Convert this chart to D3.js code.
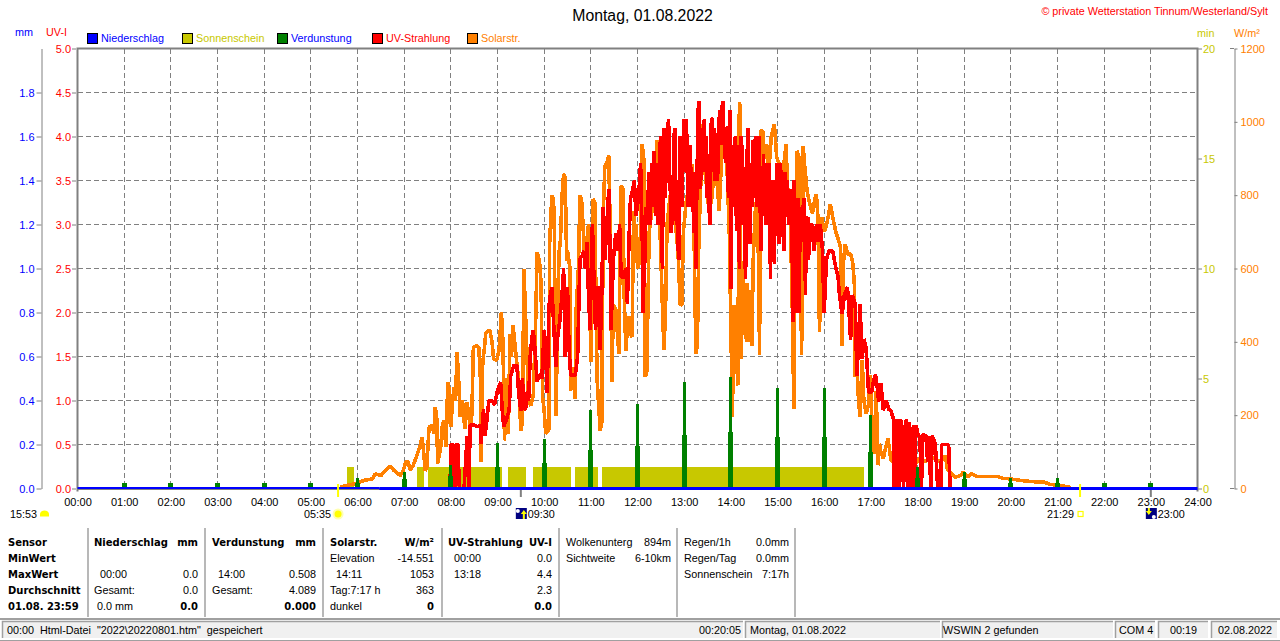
<!DOCTYPE html>
<html>
<head>
<meta charset="utf-8">
<script src="https://cdn.jsdelivr.net/npm/d3@7"></script>
<style>
  html, body { margin: 0; padding: 0; background: #fff; overflow: hidden; }
  svg { display: block; font-family: "Liberation Sans", Arial, sans-serif; font-size: 10.8px; }
  .bold { font-family: "DejaVu Sans", sans-serif; font-weight: bold; font-size: 10px; }
</style>
</head>
<body>
<svg id="chart" width="1280" height="641"></svg>
<script>
// series are [minute of day, value], except uvFine which is one value per minute
var hourLabels = d3.range(0, 25).map(function (h) { return (h < 10 ? "0" : "") + h + ":00"; });
var mmTicks = [0, 0.2, 0.4, 0.6, 0.8, 1.0, 1.2, 1.4, 1.6, 1.8];
var uvTicks = [0, 0.5, 1, 1.5, 2, 2.5, 3, 3.5, 4, 4.5, 5];
var minTicks = [0, 5, 10, 15, 20];
var wattTicks = [0, 200, 400, 600, 800, 1000, 1200];

var legendNames = ["Niederschlag", "Sonnenschein", "Verdunstung", "UV-Strahlung", "Solarstr."];
var legendColors = ["#0000ff", "#c8c800", "#008000", "#ff0000", "#ff8000"];
var legendText = ["#0000ff", "#c8c800", "#0000ff", "#ff0000", "#ff8000"];

var solar = [[338,3],[345,8],[357,13],[362,16],[368,22],[379,26],[383,40],[390,35],[394,44],[398,54],[402,60],[407,49],[411,43],[415,35],[419,50],[422,72],[425,74],[428,49],[432,65],[437,94],[441,120],[443,140],[445,100],[447,49],[449,55],[452,167],[456,172],[458,150],[460,222],[462,190],[463,67],[465,90],[467,113],[469,170],[471,185],[473,130],[474,113],[476,290],[478,270],[480,167],[482,230],[484,276],[486,240],[488,371],[490,300],[492,195],[495,240],[498,163],[501,235],[505,167],[507,200],[509,385],[513,390],[516,385],[518,300],[519,72],[521,340],[523,380],[525,425],[530,432],[533,400],[535,353],[539,350],[542,376],[545,481],[547,400],[549,131],[552,300],[554,150],[556,422],[558,360],[560,445],[563,380],[567,300],[570,158],[572,180],[574,599],[577,420],[580,235],[583,226],[586,255],[589,450],[591,644],[594,620],[596,560],[598,250],[600,213],[602,149],[606,160],[607,667],[609,760],[610,799],[612,790],[613,720],[615,199],[617,400],[619,640],[621,680],[623,800],[625,858],[627,850],[629,620],[630,650],[633,603],[634,267],[637,330],[640,245],[641,480],[644,600],[646,799],[648,790],[650,720],[652,620],[654,660],[657,720],[660,345],[663,790],[665,780],[668,300],[672,158],[674,180],[676,750],[678,880],[681,890],[683,908],[685,700],[687,290],[689,500],[692,490],[696,367],[698,700],[699,826],[701,820],[703,520],[705,376],[708,470],[711,420],[713,413],[715,758],[716,700],[718,720],[720,600],[723,620],[726,940],[728,900],[729,500],[730,304],[732,320],[735,700],[738,749],[741,780],[743,850],[745,949],[747,930],[749,700],[752,500],[754,378],[756,480],[758,720],[762,800],[768,740],[772,650],[775,500],[777,502],[779,700],[783,790],[787,830],[790,885],[792,800],[795,367],[797,390],[799,700],[801,800],[803,994],[805,900],[808,840],[811,777],[815,780],[820,900],[825,758],[827,850],[829,976],[832,921],[835,880],[838,700],[842,195],[844,500],[846,420],[849,281],[851,1053],[852,1040],[853,354],[854,500],[855,420],[856,620],[857,430],[858,540],[859,480],[860,400],[861,560],[862,399],[863,520],[864,500],[865,420],[866,540],[867,390],[868,520],[869,640],[872,780],[875,700],[877,363],[878,976],[881,976],[883,900],[886,940],[889,870],[892,960],[896,994],[899,903],[903,880],[907,860],[911,940],[913,820],[916,780],[919,500],[921,217],[923,700],[925,921],[928,900],[931,363],[933,935],[935,880],[938,812],[941,780],[945,750],[948,790],[950,803],[952,740],[954,426],[957,740],[960,700],[963,718],[966,750],[968,776],[971,740],[975,700],[978,680],[981,658],[983,390],[985,620],[987,667],[990,640],[994,640],[997,612],[999,550],[1000,304],[1002,349],[1004,249],[1006,195],[1008,280],[1009,349],[1011,240],[1014,204],[1017,230],[1019,310],[1021,200],[1024,95],[1026,213],[1027,267],[1029,63],[1031,122],[1033,100],[1036,81],[1039,110],[1042,136],[1046,76],[1052,68],[1058,60],[1065,60],[1071,56],[1078,68],[1084,86],[1089,72],[1097,86],[1103,81],[1110,72],[1116,90],[1118,54],[1123,42],[1129,31],[1135,35],[1139,45],[1144,31],[1149,40],[1156,33],[1174,33],[1183,33],[1189,28],[1200,26],[1213,22],[1226,19],[1243,17],[1251,11],[1264,8],[1277,3]];

var uvMorning = [[479,0],[480,.5],[483,.5],[485,0],[487,.5],[489,.5],[491,0],[497,0],[499,.3],[501,.6],[503,0],[505,.72],[510,.72],[514,.7],[518,.72],[519,.51],[522,.9],[524,.6],[526,.75],[529,1.0],[533,1.0],[536,.95],[540,1.11],[544,1.21],[546,.9],[548,.7],[552,.8],[555,.89],[557,1.28],[561,1.4],[565,1.4],[567,1.1],[570,.88],[572,1.25],[574,.95],[576,.89],[578,1.1],[580,1.0],[582,1.49],[584,1.7],[586,1.8],[588,1.6],[591,1.21],[594,1.3],[597,1.25],[600,1.8],[602,1.5],[604,1.09],[606,2.06],[608,2.2],[610,2.29],[612,1.9],[615,1.38],[617,1.7],[620,1.9],[623,2.2],[625,2.5],[627,1.49],[630,2.29],[632,1.6],[634,1.28],[637,1.3],[640,1.28],[643,1.5],[646,2.61],[649,2.65],[651,2.7],[653,2.5],[655,2.8],[657,2.2],[659,1.8],[662,3.0],[664,2.4],[666,1.8],[669,2.3],[672,1.57],[674,2.2],[676,3.2],[678,2.6],[680,2.9],[683,3.4],[685,2.6],[686,1.8],[689,2.6],[692,2.9],[695,2.7],[697,3.0],[699,2.4],[702,2.4],[705,2.5],[707,2.1],[709,2.8],[711,3.3],[714,3.4],[716,3.5],[718,3.1],[720,3.2],[722,3.4]];

var uvFineStart = 724;
var uvFine = [3.7,3.2,3.0,2.0,2.3,2.4,3.0,3.2,3.0,3.3,3.4,3.6,3.0,3.5,3.4,3.7,3.2,3.84,3.2,3.5,3.1,3.7,3.0,3.6,3.3,3.9,4.0,3.2,2.5,3.6,4.1,3.6,3.3,3.9,3.7,4.1,4.2,3.6,3.5,2.9,3.5,3.0,3.4,4.0,4.1,3.4,3.0,3.5,2.8,2.6,3.5,4.0,3.6,3.2,3.9,3.6,4.2,3.6,4.1,4.2,3.6,3.2,3.7,3.4,3.9,3.3,3.2,3.6,3.0,2.9,3.3,2.5,3.2,3.8,4.3,4.4,3.9,3.4,3.8,4.1,3.6,4.1,4.2,3.7,4.0,3.3,3.8,3.6,3.2,3.0,3.7,4.2,4.2,3.6,4.1,3.7,3.5,3.8,4.0,3.5,4.1,4.2,4.3,3.9,4.2,4.35,4.4,3.9,4.1,3.7,4.1,4.1,3.6,3.3,4.0,4.3,2.27,3.8,3.2,3.9,3.3,3.95,4.0,3.1,2.93,3.9,3.3,2.5,3.8,4.0,3.1,3.9,3.0,3.6,2.7,2.38,3.4,3.8,4.1,3.2,3.7,2.78,3.6,3.2,3.9,3.96,3.3,3.95,4.0,3.2,3.9,3.5,4.0,3.4,3.1,2.7,3.5,3.2,3.8,3.1,3.4,3.0,3.7,3.2,3.6,3.7,3.1,2.38,3.2,3.0,3.5,2.8,2.55,3.3,3.0,3.7,3.2,3.6,2.78,3.4,3.7,3.1,3.5,3.0,2.7,3.3,3.6,3.2,3.5,3.08,3.3,3.0,3.2,3.4,3.1,2.6,1.89,3.5,2.9,2.0,3.0,3.3,2.2,3.3,2.0,3.2,2.8,3.1,2.9,3.2,3.3,2.9,2.2,3.1,2.9,3.08,2.6,3.0,2.8,3.0,3.0,2.8,2.9,2.7,2.9,2.8,3.0,2.8,2.9,3.0,2.8,3.0,2.9,2.8,2.7,2.3,2.0];

var uvEvening = [[963,2.6],[966,2.7],[971,2.7],[974,2.55],[978,2.4],[979,2.25],[983,1.98],[986,2.2],[990,2.29],[992,2.0],[994,1.69],[996,2.2],[1000,2.1],[1002,1.28],[1004,1.6],[1006,2.1],[1009,1.47],[1011,1.7],[1014,1.6],[1017,1.1],[1021,1.09],[1023,1.2],[1026,1.3],[1029,1.1],[1030,.98],[1033,1.2],[1036,.89],[1040,1.0],[1043,.9],[1046,.88],[1049,.79],[1050,0],[1052,.79],[1053,0],[1055,.79],[1056,0],[1058,.79],[1060,.7],[1062,0],[1064,.7],[1066,.79],[1067,0],[1069,.75],[1070,0],[1072,.7],[1073,0],[1075,.72],[1076,0],[1078,.72],[1081,.6],[1083,.6],[1085,0],[1087,.62],[1089,.6],[1091,.6],[1093,.3],[1095,.6],[1097,0],[1099,.6],[1103,.5],[1106,0],[1110,0],[1111,.5],[1116,.5],[1120,.5],[1122,0]];

var uv = uvMorning
  .concat(uvFine.map(function (v, i) { return [uvFineStart + i, v]; }))
  .concat(uvEvening);

// evaporation per hour: tall narrow stroke plus a wider lower one
var evapHours = [1,2,3,4,5,6,7,8,9,10,11,12,13,14,15,16,17,18,19,20,21,22,23];
var evapPeak = [.027,.027,.027,.027,.027,.05,.077,.105,.205,.227,.359,.382,.482,.508,.459,.459,.332,.1,.077,.05,.05,.027,.027];
var evapBase = [.027,.027,.027,.027,.027,.027,.041,.055,.1,.114,.177,.191,.241,.255,.232,.232,.164,.05,.045,.023,.023,.023,.023];

// sunshine runs, start and end minute, 1 min per minute
var sunRuns = [[347,355],[437,446],[450,489],[492,546],[553,576],[586,635],[639,669],[674,1003],[1004,1011]];
var rainChange = [0, 388, 1440];

var x = d3.scaleLinear().domain([0, 1440]).range([77.5, 1197.5]);
var yUv = d3.scaleLinear().domain([0, 5]).range([488.5, 48.5]);
var yMm = d3.scaleLinear().domain([0, 2]).range([488.5, 48.5]);
var yMin = d3.scaleLinear().domain([0, 20]).range([488.5, 48.5]);
var yWatt = d3.scaleLinear().domain([0, 1200]).range([488.5, 48.5]);

var grey = "#808080";
var svg = d3.select("#chart");

function label(xp, yp, str, color, anchor, cls) {
  return svg.append("text")
    .attr("x", xp)
    .attr("y", yp)
    .attr("dy", "0.35em")
    .attr("fill", color || "#000")
    .attr("text-anchor", anchor || "start")
    .attr("class", cls || null)
    .text(str);
}

// titles
label(642.5, 15, "Montag, 01.08.2022", "#000", "middle").style("font-size", "15.8px");
label(1268, 11, "\u00a9 private Wetterstation Tinnum/Westerland/Sylt", "#ff0000", "end");
label(15, 32, "mm", "#0000ff");
label(46, 32, "UV-I", "#ff0000");
label(1197, 33, "min", "#c8c800");
label(1234, 33, "W/m\u00b2", "#ff8000");

// legend
legendNames.forEach(function (name, i) {
  svg.append("rect")
    .attr("x", 87.5 + i * 95)
    .attr("y", 33.5)
    .attr("width", 10)
    .attr("height", 10)
    .attr("fill", legendColors[i])
    .attr("stroke", "#000");
  label(101 + i * 95, 38, name, legendText[i]);
});

// grid
var grid = svg.append("g")
  .attr("stroke", grey)
  .attr("stroke-dasharray", "5,3")
  .attr("shape-rendering", "crispEdges");
grid.selectAll("line.h")
  .data(uvTicks.slice(1, -1))
  .enter()
  .append("line")
  .attr("class", "h")
  .attr("x1", x(0))
  .attr("x2", x(1440))
  .attr("y1", function (d) { return yUv(d) - 0.5; })
  .attr("y2", function (d) { return yUv(d) - 0.5; });
grid.selectAll("line.v")
  .data(d3.range(1, 24))
  .enter()
  .append("line")
  .attr("class", "v")
  .attr("x1", function (d) { return x(d * 60); })
  .attr("x2", function (d) { return x(d * 60); })
  .attr("y1", yUv(5))
  .attr("y2", yUv(0));

// sunshine blocks
svg.append("g")
  .attr("shape-rendering", "crispEdges")
  .selectAll("rect")
  .data(sunRuns)
  .enter()
  .append("rect")
  .attr("x", function (d) { return x(d[0]); })
  .attr("width", function (d) { return x(d[1]) - x(d[0]); })
  .attr("y", yMin(1))
  .attr("height", yMin(0) - yMin(1))
  .attr("fill", "#c8c800");

var lineGen = function (yScale) {
  return d3.line()
    .x(function (d) { return x(d[0]); })
    .y(function (d) { return yScale(d[1]); });
};

svg.append("path")
  .datum(solar)
  .attr("d", lineGen(yWatt))
  .attr("fill", "none")
  .attr("stroke", "#ff8000")
  .attr("stroke-width", 3.6)
  .attr("stroke-linejoin", "bevel")
  .attr("shape-rendering", "crispEdges");

svg.append("path")
  .datum(uv)
  .attr("d", lineGen(yUv))
  .attr("fill", "none")
  .attr("stroke", "#ff0000")
  .attr("stroke-width", 3.6)
  .attr("stroke-linejoin", "bevel")
  .attr("shape-rendering", "crispEdges");

// frame
svg.append("path")
  .attr("d", "M" + x(0) + "," + (yUv(0) + 3) + "V" + yUv(5) + "H" + x(1440) + "V" + (yUv(0) + 3))
  .attr("fill", "none")
  .attr("stroke", grey)
  .attr("stroke-width", 2);
svg.append("line")
  .attr("x1", x(0))
  .attr("x2", x(1440))
  .attr("y1", yUv(0) + 0.5)
  .attr("y2", yUv(0) + 0.5)
  .attr("stroke", grey)
  .attr("stroke-width", 2);

// evaporation spikes
var evap = svg.append("g").attr("fill", "#008000").attr("shape-rendering", "crispEdges");
evap.selectAll("rect.peak")
  .data(evapHours)
  .enter()
  .append("rect")
  .attr("class", "peak")
  .attr("x", function (d) { return x(d * 60) - 1.5; })
  .attr("width", 3)
  .attr("y", function (d, i) { return yMm(evapPeak[i]); })
  .attr("height", function (d, i) { return yMm(0) - yMm(evapPeak[i]); });
evap.selectAll("rect.base")
  .data(evapHours)
  .enter()
  .append("rect")
  .attr("class", "base")
  .attr("x", function (d) { return x(d * 60) - 2.5; })
  .attr("width", 5)
  .attr("y", function (d, i) { return yMm(evapBase[i]); })
  .attr("height", function (d, i) { return yMm(0) - yMm(evapBase[i]); });

// rain stays zero: thin line first, full width after 06:28
svg.append("path")
  .datum([[rainChange[0], 0], [rainChange[1], 0]])
  .attr("d", lineGen(yMm))
  .attr("transform", "translate(0,-0.5)")
  .attr("stroke", "#0000ff")
  .attr("stroke-width", 2);
svg.append("path")
  .datum([[rainChange[1], 0], [rainChange[2], 0]])
  .attr("d", lineGen(yMm))
  .attr("stroke", "#0000ff")
  .attr("stroke-width", 3);

// axes
function styleAxis(g, color) {
  g.selectAll("text").attr("fill", color).style("font-size", "11px").style("font-family", "Liberation Sans");
  g.selectAll("line").attr("stroke", grey);
  g.select(".domain").attr("stroke", grey);
}

svg.append("g")
  .attr("transform", "translate(41.5,0)")
  .call(d3.axisLeft(yMm).tickValues(mmTicks).tickFormat(d3.format(".1f")).tickSize(5).tickPadding(2).tickSizeOuter(0))
  .call(styleAxis, "#0000ff");

svg.append("g")
  .attr("transform", "translate(76,0)")
  .call(d3.axisLeft(yUv).tickValues(uvTicks).tickFormat(d3.format(".1f")).tickSize(4).tickPadding(1))
  .call(styleAxis, "#ff0000")
  .select(".domain").remove();

svg.append("g")
  .attr("transform", "translate(1198,0)")
  .call(d3.axisRight(yMin).tickValues(minTicks).tickSize(4).tickPadding(1))
  .call(styleAxis, "#c8c800")
  .select(".domain").remove();

svg.append("g")
  .attr("transform", "translate(1234.5,0)")
  .call(d3.axisRight(yWatt).tickValues(wattTicks).tickFormat(d3.format("d")).tickSize(3).tickPadding(3).tickSizeOuter(0))
  .call(styleAxis, "#ff8000");
svg.append("path")
  .attr("d", "M1230," + yWatt(1200) + "h4M1230," + yWatt(0) + "h4")
  .attr("stroke", grey);

svg.append("g")
  .attr("transform", "translate(0,497)")
  .call(d3.axisBottom(x).tickValues(d3.range(0, 1441, 60)).tickFormat(function (d, i) { return hourLabels[i]; }).tickSize(0).tickPadding(1))
  .call(function (g) {
    g.select(".domain").remove();
    g.selectAll("text").attr("fill", "#000").style("font-size", "11px").style("font-family", "Liberation Sans");
  });

// sun and moon markers
var sunrise = 335, sunset = 1289, moonrise = 570, moonset = 1380;
[sunrise, sunset].forEach(function (t) {
  svg.append("line").attr("x1", x(t)).attr("x2", x(t)).attr("y1", 484).attr("y2", 497)
    .attr("stroke", "#ffff00").attr("stroke-width", 2);
});
[moonrise, moonset].forEach(function (t) {
  svg.append("line").attr("x1", x(t)).attr("x2", x(t)).attr("y1", 490).attr("y2", 497)
    .attr("stroke", grey).attr("stroke-width", 2);
});

label(10, 514, "15:53");
svg.append("path").attr("d", "M40,516.5 v-3 q1,-3 4.5,-3 q3.5,0 4.5,3 v3 z").attr("fill", "#ffff00");

label(x(sunrise) - 7, 514, "05:35", "#000", "end");
svg.append("circle").attr("cx", x(sunrise)).attr("cy", 514).attr("r", 5.5).attr("fill", "#ffffb0");
svg.append("circle").attr("cx", x(sunrise)).attr("cy", 514).attr("r", 3.5).attr("fill", "#ffff00");

label(x(sunset) - 6, 514, "21:29", "#000", "end");
svg.append("rect").attr("x", x(sunset) - 2).attr("y", 511.5).attr("width", 5).attr("height", 5)
  .attr("fill", "#fff").attr("stroke", "#ffff00").attr("stroke-width", 1.2);

svg.append("rect").attr("x", x(moonrise) - 5).attr("y", 508).attr("width", 11).attr("height", 11).attr("fill", "#000080");
svg.append("circle").attr("cx", x(moonrise) - 3).attr("cy", 511).attr("r", 2).attr("fill", "#fff");
svg.append("path").attr("d", "M" + (x(moonrise) + 3) + ",510l3,4h-2v5h-2v-5h-2z").attr("fill", "#ffff00");
label(x(moonrise) + 7, 514, "09:30");

svg.append("rect").attr("x", x(moonset) - 5).attr("y", 508).attr("width", 11).attr("height", 11).attr("fill", "#000080");
svg.append("circle").attr("cx", x(moonset) + 3).attr("cy", 517).attr("r", 2).attr("fill", "#fff");
svg.append("path").attr("d", "M" + (x(moonset) - 2) + ",515l-3,-4h2v-3h2v3h2z").attr("fill", "#ffff00");
label(x(moonset) + 7, 514, "23:00");

// table below the chart
var rowY = [542, 558, 574, 590, 606];
var colEdges = [88, 205, 323, 442, 559, 677, 795];
svg.selectAll("line.sep")
  .data(colEdges)
  .enter()
  .append("line")
  .attr("class", "sep")
  .attr("x1", function (d) { return d; })
  .attr("x2", function (d) { return d; })
  .attr("y1", 528)
  .attr("y2", 617)
  .attr("stroke", "#a0a0a0")
  .attr("stroke-width", 1.5);

var cells = [
  [8, 0, "Sensor", "start", 1], [8, 1, "MinWert", "start", 1], [8, 2, "MaxWert", "start", 1], [8, 3, "Durchschnitt", "start", 1], [8, 4, "01.08. 23:59", "start", 1],
  [94, 0, "Niederschlag", "start", 1], [198, 0, "mm", "end", 1], [100, 2, "00:00", "start"], [198, 2, "0.0", "end"], [94, 3, "Gesamt:", "start"], [198, 3, "0.0", "end"], [97, 4, "0.0 mm", "start"], [198, 4, "0.0", "end", 1],
  [212, 0, "Verdunstung", "start", 1], [316, 0, "mm", "end", 1], [218, 2, "14:00", "start"], [316, 2, "0.508", "end"], [212, 3, "Gesamt:", "start"], [316, 3, "4.089", "end"], [316, 4, "0.000", "end", 1],
  [330, 0, "Solarstr.", "start", 1], [434, 0, "W/m\u00b2", "end", 1], [330, 1, "Elevation", "start"], [434, 1, "-14.551", "end"], [336, 2, "14:11", "start"], [434, 2, "1053", "end"], [330, 3, "Tag:7:17 h", "start"], [434, 3, "363", "end"], [330, 4, "dunkel", "start"], [434, 4, "0", "end", 1],
  [448, 0, "UV-Strahlung", "start", 1], [552, 0, "UV-I", "end", 1], [454, 1, "00:00", "start"], [552, 1, "0.0", "end"], [454, 2, "13:18", "start"], [552, 2, "4.4", "end"], [552, 3, "2.3", "end"], [552, 4, "0.0", "end", 1],
  [566, 0, "Wolkenunterg", "start"], [671, 0, "894m", "end"], [566, 1, "Sichtweite", "start"], [671, 1, "6-10km", "end"],
  [684, 0, "Regen/1h", "start"], [789, 0, "0.0mm", "end"], [684, 1, "Regen/Tag", "start"], [789, 1, "0.0mm", "end"], [684, 2, "Sonnenschein", "start"], [789, 2, "7:17h", "end"]
];
cells.forEach(function (c) {
  label(c[0], rowY[c[1]], c[2], "#000", c[3], c[4] ? "bold" : null);
});

// status bar
svg.append("rect").attr("x", 0).attr("y", 618).attr("width", 1280).attr("height", 23).attr("fill", "#fff");
svg.append("line").attr("x1", 0).attr("x2", 1280).attr("y1", 619).attr("y2", 619).attr("stroke", "#a0a0a0").attr("stroke-width", 2);
svg.append("line").attr("x1", 0).attr("x2", 1280).attr("y1", 640.5).attr("y2", 640.5).attr("stroke", "#a0a0a0");
var panels = [[2, 743], [745, 940], [942, 1113], [1115, 1155], [1158, 1208], [1211, 1277]];
panels.forEach(function (p) {
  svg.append("rect").attr("x", p[0]).attr("y", 621).attr("width", p[1] - p[0]).attr("height", 17).attr("fill", "#f0f0f0");
  svg.append("path").attr("d", "M" + (p[0] + 0.5) + ",638V621.5H" + p[1]).attr("fill", "none").attr("stroke", "#a0a0a0").attr("stroke-width", 1.5);
});
label(7, 630, "00:00  Html-Datei  \"2022\\20220801.htm\"  gespeichert").style("white-space", "pre");
label(741, 630, "00:20:05", "#000", "end");
label(750, 630, "Montag, 01.08.2022");
label(943, 630, "WSWIN 2 gefunden");
label(1119, 630, "COM 4");
label(1170, 630, "00:19");
label(1218, 630, "02.08.2022");
</script>
</body>
</html>
